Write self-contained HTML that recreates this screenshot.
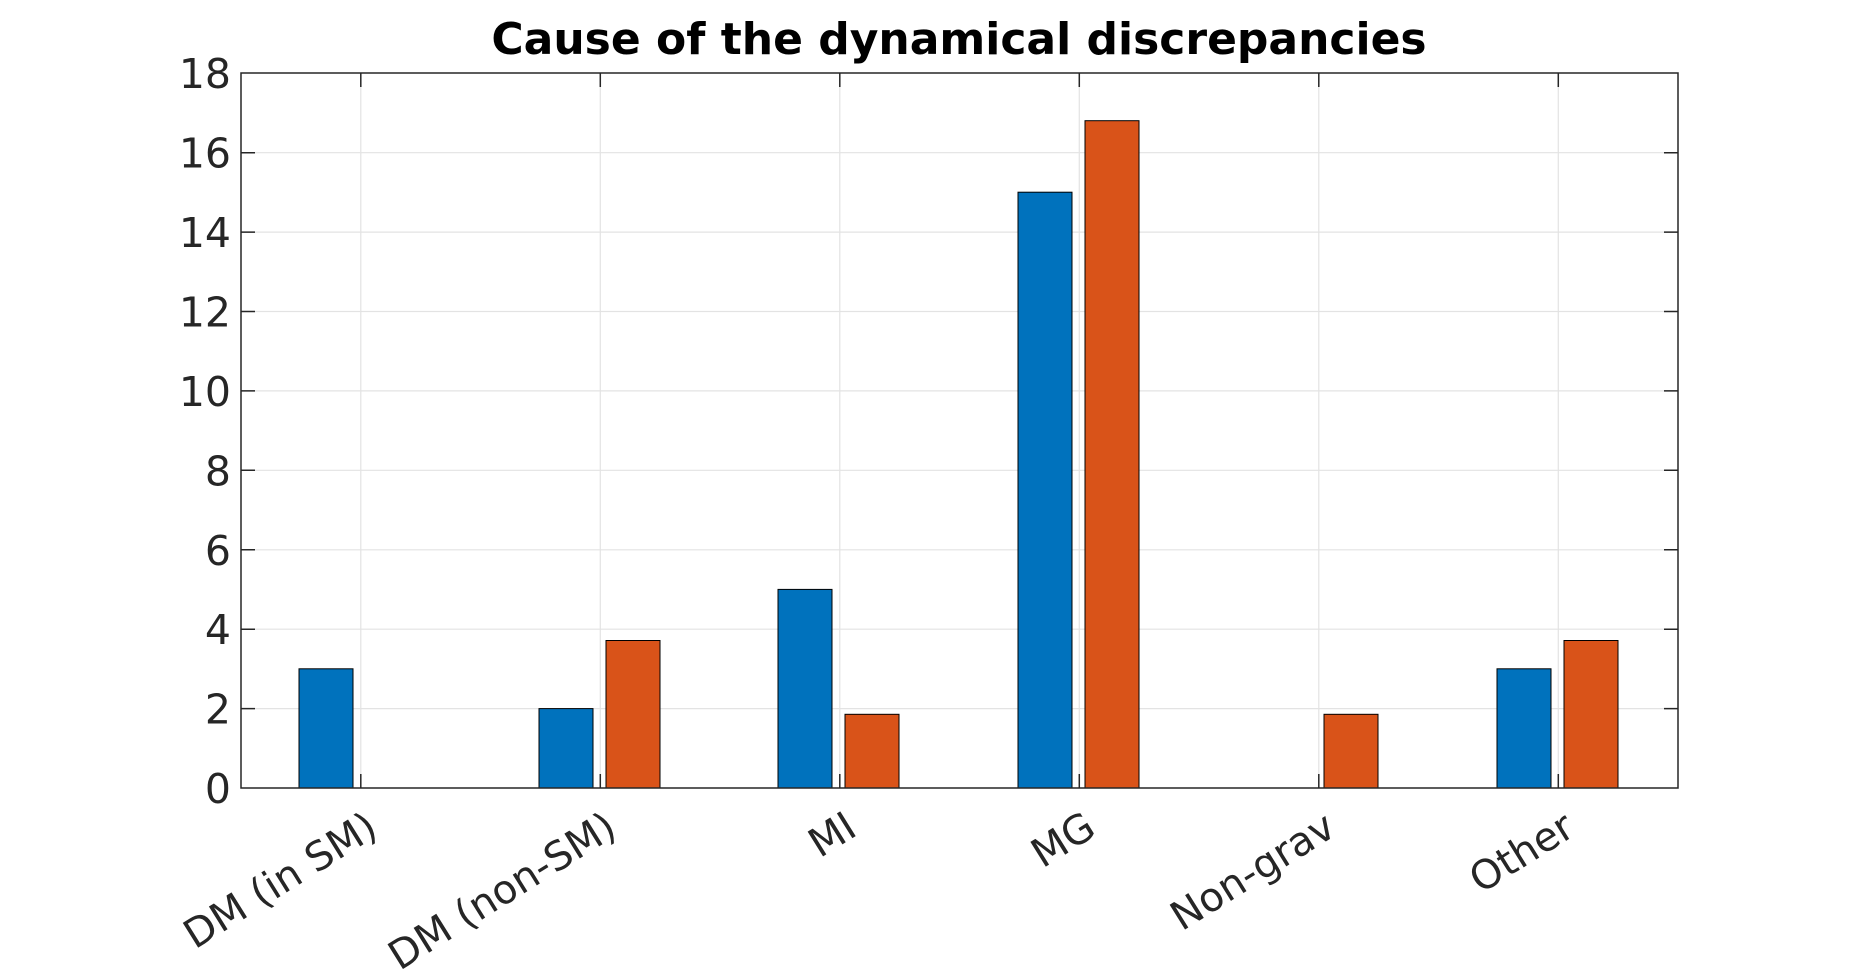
<!DOCTYPE html>
<html><head><meta charset="utf-8"><style>
html,body{margin:0;padding:0;background:#fff;}
svg{display:block;}
text{font-family:"DejaVu Sans","Liberation Sans",sans-serif;}
</style></head><body>
<svg width="1853" height="970" viewBox="0 0 1853 970" xmlns="http://www.w3.org/2000/svg">
<rect width="1853" height="970" fill="#fff"/>
<g stroke="#e3e3e3" stroke-width="1.2">
<line x1="241" y1="708.6" x2="1678" y2="708.6"/>
<line x1="241" y1="629.2" x2="1678" y2="629.2"/>
<line x1="241" y1="549.8" x2="1678" y2="549.8"/>
<line x1="241" y1="470.3" x2="1678" y2="470.3"/>
<line x1="241" y1="390.9" x2="1678" y2="390.9"/>
<line x1="241" y1="311.5" x2="1678" y2="311.5"/>
<line x1="241" y1="232.1" x2="1678" y2="232.1"/>
<line x1="241" y1="152.7" x2="1678" y2="152.7"/>
<line x1="360.8" y1="73" x2="360.8" y2="788"/>
<line x1="600.3" y1="73" x2="600.3" y2="788"/>
<line x1="839.8" y1="73" x2="839.8" y2="788"/>
<line x1="1079.3" y1="73" x2="1079.3" y2="788"/>
<line x1="1318.8" y1="73" x2="1318.8" y2="788"/>
<line x1="1558.3" y1="73" x2="1558.3" y2="788"/>
</g>
<g stroke="#000" stroke-width="1">
<rect x="299" y="668.8" width="54" height="119.2" fill="#0072bd"/>
<rect x="539" y="708.6" width="54" height="79.4" fill="#0072bd"/>
<rect x="606" y="640.5" width="54" height="147.5" fill="#d95319"/>
<rect x="778" y="589.4" width="54" height="198.6" fill="#0072bd"/>
<rect x="845" y="714.3" width="54" height="73.7" fill="#d95319"/>
<rect x="1018" y="192.2" width="54" height="595.8" fill="#0072bd"/>
<rect x="1085" y="120.7" width="54" height="667.3" fill="#d95319"/>
<rect x="1324" y="714.3" width="54" height="73.7" fill="#d95319"/>
<rect x="1497" y="668.8" width="54" height="119.2" fill="#0072bd"/>
<rect x="1564" y="640.5" width="54" height="147.5" fill="#d95319"/>
</g>
<g stroke="#262626" stroke-width="1.5" fill="none">
<rect x="241" y="73" width="1437" height="715"/>
<path d="M241 708.6h14M241 629.2h14M241 549.8h14M241 470.3h14M241 390.9h14M241 311.5h14M241 232.1h14M241 152.7h14
M1678 708.6h-14M1678 629.2h-14M1678 549.8h-14M1678 470.3h-14M1678 390.9h-14M1678 311.5h-14M1678 232.1h-14M1678 152.7h-14
M360.8 788v-14M600.3 788v-14M839.8 788v-14M1079.3 788v-14M1318.8 788v-14M1558.3 788v-14
M360.8 73v14M600.3 73v14M839.8 73v14M1079.3 73v14M1318.8 73v14M1558.3 73v14"/>
</g>
<g fill="#262626" font-size="41" text-anchor="end">
<text x="231" y="803">0</text>
<text x="231" y="723.6">2</text>
<text x="231" y="644.2">4</text>
<text x="231" y="564.8">6</text>
<text x="231" y="485.3">8</text>
<text x="231" y="405.9">10</text>
<text x="231" y="326.5">12</text>
<text x="231" y="247.1">14</text>
<text x="231" y="167.7">16</text>
<text x="231" y="88">18</text>
</g>
<g fill="#262626" font-size="40" text-anchor="end">
<text transform="translate(380,834) rotate(-32)">DM (in SM)</text>
<text transform="translate(619,834) rotate(-32)">DM (non-SM)</text>
<text transform="translate(859,834) rotate(-32)">MI</text>
<text transform="translate(1098,834) rotate(-32)">MG</text>
<text transform="translate(1338,834) rotate(-32)">Non-grav</text>
<text transform="translate(1577,834) rotate(-32)">Other</text>
</g>
<text x="959" y="54" font-size="44" font-weight="bold" text-anchor="middle" fill="#000">Cause of the dynamical discrepancies</text>
</svg>
</body></html>
